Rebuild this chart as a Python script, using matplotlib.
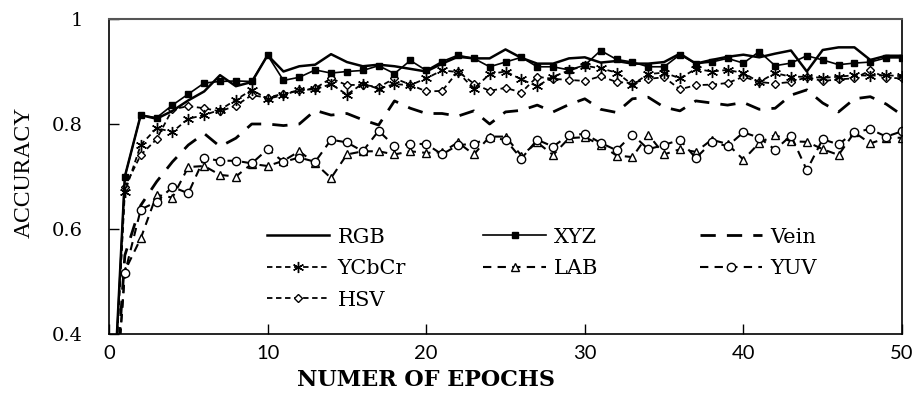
import numpy as np
import matplotlib
matplotlib.use("Agg")
import matplotlib.pyplot as plt

# epoch 0 value lies below the visible range (clipped at 0.4)
epochs = list(range(0, 51))

rgb = [0.10, 0.700, 0.817, 0.810, 0.825, 0.845, 0.862, 0.893, 0.872, 0.880, 0.931,
       0.900, 0.910, 0.913, 0.933, 0.918, 0.910, 0.913, 0.910, 0.905, 0.900,
       0.915, 0.928, 0.925, 0.925, 0.942, 0.926, 0.915, 0.915, 0.925, 0.927,
       0.917, 0.920, 0.915, 0.915, 0.918, 0.934, 0.915, 0.922, 0.928, 0.932,
       0.927, 0.934, 0.940, 0.900, 0.941, 0.946, 0.946, 0.922, 0.930, 0.930]
xyz = [0.10, 0.700, 0.817, 0.812, 0.836, 0.857, 0.878, 0.881, 0.882, 0.881, 0.931,
       0.883, 0.889, 0.903, 0.897, 0.900, 0.902, 0.911, 0.896, 0.921, 0.902,
       0.919, 0.931, 0.925, 0.909, 0.918, 0.927, 0.909, 0.909, 0.903, 0.912,
       0.940, 0.923, 0.918, 0.909, 0.909, 0.932, 0.915, 0.918, 0.925, 0.916,
       0.938, 0.911, 0.916, 0.930, 0.922, 0.913, 0.916, 0.918, 0.926, 0.926]
vein = [0.10, 0.550, 0.645, 0.690, 0.728, 0.760, 0.782, 0.757, 0.773, 0.800, 0.800,
        0.797, 0.800, 0.826, 0.817, 0.820, 0.808, 0.798, 0.844, 0.830, 0.820,
        0.820, 0.815, 0.825, 0.800, 0.823, 0.826, 0.836, 0.823, 0.837, 0.848,
        0.828, 0.822, 0.848, 0.851, 0.832, 0.825, 0.844, 0.840, 0.836, 0.841,
        0.828, 0.830, 0.855, 0.865, 0.840, 0.823, 0.848, 0.852, 0.838, 0.817]
ycbcr = [0.10, 0.670, 0.760, 0.792, 0.785, 0.810, 0.817, 0.827, 0.846, 0.865, 0.848,
         0.855, 0.865, 0.866, 0.876, 0.856, 0.877, 0.867, 0.876, 0.874, 0.887,
         0.902, 0.899, 0.867, 0.895, 0.900, 0.885, 0.872, 0.890, 0.902, 0.911,
         0.906, 0.898, 0.875, 0.895, 0.898, 0.887, 0.905, 0.900, 0.903, 0.897,
         0.880, 0.897, 0.890, 0.890, 0.888, 0.890, 0.893, 0.892, 0.893, 0.891]
lab = [0.10, 0.520, 0.582, 0.665, 0.660, 0.718, 0.720, 0.703, 0.700, 0.724, 0.720,
       0.730, 0.748, 0.725, 0.697, 0.742, 0.748, 0.748, 0.742, 0.748, 0.745,
       0.746, 0.765, 0.742, 0.776, 0.776, 0.740, 0.765, 0.741, 0.773, 0.775,
       0.760, 0.740, 0.737, 0.780, 0.742, 0.752, 0.747, 0.770, 0.762, 0.732,
       0.764, 0.779, 0.767, 0.766, 0.752, 0.741, 0.784, 0.763, 0.773, 0.774]
yuv = [0.10, 0.516, 0.637, 0.652, 0.680, 0.668, 0.735, 0.730, 0.730, 0.725, 0.752,
       0.728, 0.736, 0.728, 0.770, 0.765, 0.748, 0.787, 0.758, 0.762, 0.762,
       0.742, 0.760, 0.762, 0.774, 0.770, 0.734, 0.770, 0.757, 0.779, 0.781,
       0.764, 0.750, 0.780, 0.752, 0.760, 0.770, 0.735, 0.765, 0.758, 0.784,
       0.774, 0.751, 0.778, 0.712, 0.771, 0.761, 0.785, 0.790, 0.776, 0.786]
hsv = [0.10, 0.680, 0.741, 0.771, 0.828, 0.834, 0.830, 0.824, 0.835, 0.855, 0.850,
       0.858, 0.864, 0.868, 0.887, 0.874, 0.875, 0.870, 0.887, 0.875, 0.862,
       0.863, 0.900, 0.877, 0.863, 0.869, 0.860, 0.890, 0.886, 0.884, 0.882,
       0.891, 0.880, 0.878, 0.886, 0.889, 0.866, 0.874, 0.875, 0.878, 0.890,
       0.880, 0.877, 0.880, 0.889, 0.882, 0.885, 0.887, 0.902, 0.888, 0.887]

x_ticks = [0, 10, 20, 30, 40, 50]
y_ticks = [0.4, 0.6, 0.8, 1.0]
y_tick_labels = ["0.4", "0.6", "0.8", "1"]

fig = plt.figure(figsize=(9.16, 3.94), dpi=100)
ax = fig.add_axes([109/916, 1-334/394, (902-109)/916, (334-19)/394])

k = 'black'
l_vein, = ax.plot(epochs, vein, color=k, lw=2.0, ls=(0, (5.5, 4)))
l_lab, = ax.plot(epochs, lab, color=k, lw=1.5, ls=(0, (4, 3)), marker='^', ms=6,
                 mfc='white', mec=k, mew=1.0)
l_yuv, = ax.plot(epochs, yuv, color=k, lw=1.5, ls=(0, (4, 3)), marker='o', ms=6,
                 mfc='white', mec=k, mew=1.0)
l_hsv, = ax.plot(epochs, hsv, color=k, lw=1.3, ls=(0, (3, 2)), marker='D', ms=4.5,
                 mfc='white', mec=k, mew=1.0)
l_ycc, = ax.plot(epochs, ycbcr, color=k, lw=1.3, ls=(0, (3, 2)), marker=(6, 2, 0), ms=8,
                 mec=k, mew=1.0)
l_xyz, = ax.plot(epochs, xyz, color=k, lw=1.2, marker='s', ms=5, mfc=k, mec=k)
l_rgb, = ax.plot(epochs, rgb, color=k, lw=1.8)

ax.set_xlim(0, 50)
ax.set_ylim(0.4, 1.0)
ax.set_xticks(x_ticks)
ax.set_yticks(y_ticks)
ax.set_yticklabels(y_tick_labels)
ax.tick_params(direction='in', length=7, width=1.0, colors=k)
ax.tick_params(axis='x', pad=8)
ax.tick_params(axis='y', pad=19)
for lbl in ax.get_xticklabels():
    lbl.set_family('Lato'); lbl.set_fontsize(14.5)
for lbl in ax.get_yticklabels():
    lbl.set_family('DejaVu Serif'); lbl.set_fontsize(14)
for s in ['left', 'bottom', 'right']:
    ax.spines[s].set_color(k); ax.spines[s].set_linewidth(1.2)
ax.spines['top'].set_color('#555555'); ax.spines['top'].set_linewidth(1.5)

ax.set_xlabel("NUMER OF EPOCHS", family='DejaVu Serif', fontweight='bold', fontsize=16)
ax.xaxis.set_label_coords(0.40, -0.112)
ax.set_ylabel("ACCURACY", family='Liberation Serif', fontsize=17)
ax.yaxis.set_label_coords(-0.093, 0.514)

cols = [([l_rgb, l_ycc, l_hsv], ["RGB", "YCbCr", "HSV"], 0.199),
        ([l_xyz, l_lab], ["XYZ", "LAB"], 0.472),
        ([l_vein, l_yuv], ["Vein", "YUV"], 0.745)]
legs = []
for hs, ls_, xa in cols:
    lg = ax.legend(hs, ls_, frameon=False, loc='upper left',
                   bbox_to_anchor=(xa, 0.338), borderpad=0, borderaxespad=0,
                   handlelength=3.0, handletextpad=0.4, labelspacing=0.6,
                   prop={'family': 'DejaVu Serif', 'size': 15})
    legs.append(lg)
for lg in legs[:-1]:
    ax.add_artist(lg)

fig.savefig("out.png", dpi=100)
